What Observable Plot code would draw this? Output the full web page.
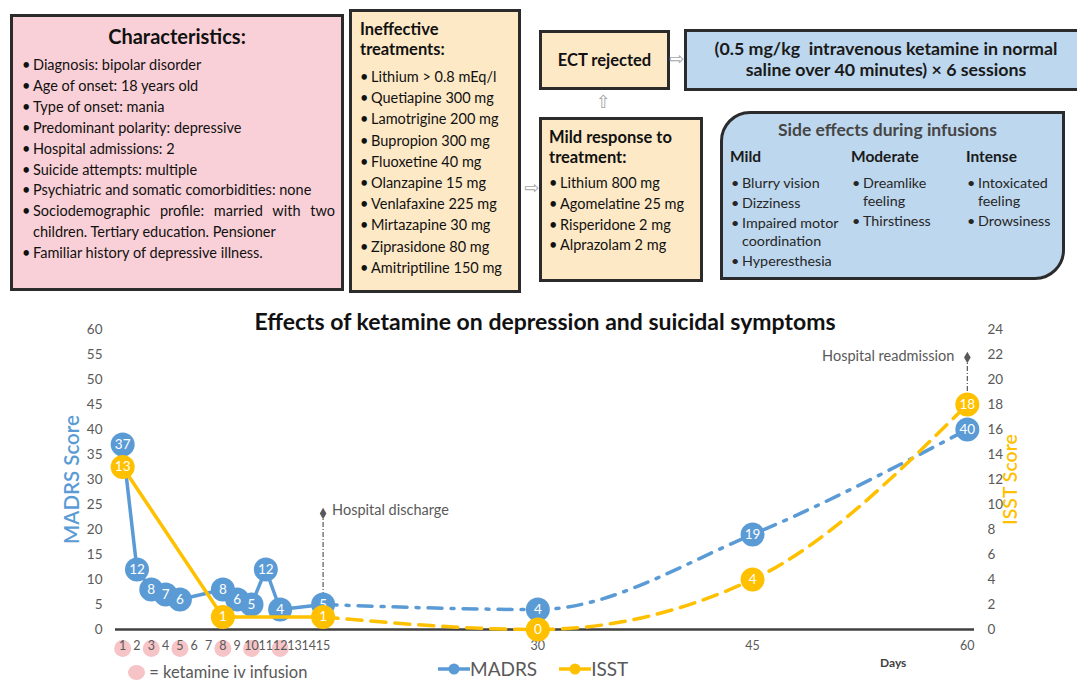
<!DOCTYPE html>
<html>
<head>
<meta charset="utf-8">
<script src="https://cdn.jsdelivr.net/npm/d3@7"></script>
<script src="https://cdn.jsdelivr.net/npm/@observablehq/plot@0.6"></script>
<style>
  html, body { margin: 0; padding: 0; background: #fff; }
  #root { position: relative; width: 1077px; height: 682px; overflow: hidden; font-family: Lato, "Open Sans", sans-serif; color: #111; }
  .box { position: absolute; box-sizing: border-box; border: 3px solid #2b2b2b; }
  .pink { background: #f9d0d7; }
  .beige { background: #fde9c6; }
  .blue { background: #bdd7ee; }
  .abs { position: absolute; white-space: nowrap; }
  ul.b { list-style: none; margin: 0; padding: 0; }
  ul.b li { position: relative; padding-left: 11px; }
  ul.b li::before { content: "\2022"; position: absolute; left: 0; top: 0; }
  .arrow { position: absolute; color: #a6a6a6; font-size: 18px; line-height: 1; font-family: "DejaVu Sans", sans-serif; }
</style>
</head>
<body>
<div id="root">
  <!-- Characteristics -->
  <div class="box pink" style="left:10px; top:14px; width:334px; height:277px;">
    <div style="position:absolute; left:0; right:0; top:7px; text-align:center; font-weight:700; font-size:20px;">Characteristics:</div>
    <ul class="b" id="charList" style="position:absolute; left:9px; top:38px; width:313px; font-size:14.5px; line-height:20.9px;"></ul>
  </div>
  <!-- Ineffective treatments -->
  <div class="box beige" style="left:349px; top:9px; width:172px; height:284px;">
    <div style="position:absolute; left:8px; top:7px; font-weight:700; font-size:16.5px; line-height:20px;">Ineffective<br>treatments:</div>
    <ul class="b" id="ineffList" style="position:absolute; left:8px; top:54px; font-size:14.5px; line-height:21.2px; white-space:nowrap;"></ul>
  </div>
  <div class="arrow" style="left:524px; top:179px;">&#8680;</div>
  <!-- ECT -->
  <div class="box beige" style="left:539px; top:30px; width:131px; height:60px;">
    <div style="position:absolute; left:0; right:0; top:17px; text-align:center; font-weight:700; font-size:16.5px;">ECT rejected</div>
  </div>
  <div class="arrow" style="left:669px; top:50px;">&#8680;</div>
  <div class="arrow" style="left:596px; top:93px;">&#8679;</div>
  <!-- Mild response -->
  <div class="box beige" style="left:539px; top:117px; width:164px; height:165px;">
    <div style="position:absolute; left:7px; top:7px; font-weight:700; font-size:16.5px; line-height:20px;">Mild response to<br>treatment:</div>
    <ul class="b" id="mildList" style="position:absolute; left:7px; top:53px; font-size:14.5px; line-height:20.8px; white-space:nowrap;"></ul>
  </div>
  <!-- Ketamine protocol -->
  <div class="box blue" style="left:684px; top:29px; width:410px; height:62px;">
    <div style="position:absolute; left:0; width:398px; top:6px; text-align:center; font-weight:700; font-size:17.8px; line-height:21px; color:#1a1a1a;">(0.5 mg/kg&nbsp; intravenous ketamine in normal<br>saline over 40 minutes) &#215; 6 sessions</div>
  </div>
  <!-- Side effects -->
  <div class="box blue" style="left:720px; top:111px; width:345px; height:169px; border-radius:30px 0 30px 0;">
    <div style="position:absolute; left:0; right:10px; top:5px; text-align:center; font-weight:700; font-size:17.5px; color:#454545;">Side effects during infusions</div>
    <div id="sideCols"></div>
  </div>

  <!-- Chart -->
  <div id="chart" style="position:absolute; left:0; top:300px;"></div>
  <div class="abs" style="left:0; width:1090px; top:307px; text-align:center; font-weight:700; font-size:23px; color:#111;">Effects of ketamine on depression and suicidal symptoms</div>
  <div class="abs" style="left:880px; top:655px; font-weight:700; font-size:12px; color:#404040;">Days</div>
  <!-- infusion legend -->
  <div class="abs" style="left:128px; top:663px; font-size:16.5px; color:#595959; line-height:18px;">
    <span style="display:inline-block; width:17px; height:15px; border-radius:50%; background:#f6c4c6; vertical-align:-2px;"></span> = ketamine iv infusion
  </div>
  <!-- series legend -->
  <div class="abs" id="legend" style="left:438px; top:658px; font-size:19px; color:#595959; line-height:22px;"></div>
</div>
<script>
// ---------- Text content ----------
const characteristics = [
  "Diagnosis: bipolar disorder",
  "Age of onset: 18 years old",
  "Type of onset: mania",
  "Predominant polarity: depressive",
  "Hospital admissions: 2",
  "Suicide attempts: multiple",
  "Psychiatric and somatic comorbidities: none",
  "Sociodemographic profile: married with two|children. Tertiary education. Pensioner",
  "Familiar history of depressive illness."
];
const ineffectiveTreatments = [
  "Lithium > 0.8 mEq/l", "Quetiapine 300 mg", "Lamotrigine 200 mg", "Bupropion 300 mg",
  "Fluoxetine 40 mg", "Olanzapine 15 mg", "Venlafaxine 225 mg", "Mirtazapine 30 mg",
  "Ziprasidone 80 mg", "Amitriptiline 150 mg"
];
const mildResponse = ["Lithium 800 mg", "Agomelatine 25 mg", "Risperidone 2 mg", "Alprazolam 2 mg"];
const sideEffectLevels = ["Mild", "Moderate", "Intense"];
const sideEffectsMild = ["Blurry vision", "Dizziness", "Impaired motor|coordination", "Hyperesthesia"];
const sideEffectsModerate = ["Dreamlike|feeling", "Thirstiness"];
const sideEffectsIntense = ["Intoxicated|feeling", "Drowsiness"];

// ---------- Chart data ----------
const madrsDays   = [1, 2, 3, 4, 5, 8, 9, 10, 11, 12, 15, 30, 45, 60];
const madrsValues = [37, 12, 8, 7, 6, 8, 6, 5, 12, 4, 5, 4, 19, 40];
const isstDays    = [1, 8, 15, 30, 45, 60];
const isstValues  = [13, 1, 1, 0, 4, 18];
const infusionDays = [1, 3, 5, 8, 10, 12];
const dischargeDay = 15;
const dayTicks = [1, 2, 3, 4, 5, 6, 7, 8, 9, 10, 11, 12, 13, 14, 15, 30, 45, 60];
const madrsTicks = [0, 5, 10, 15, 20, 25, 30, 35, 40, 45, 50, 55, 60];
const isstTicks  = [0, 2, 4, 6, 8, 10, 12, 14, 16, 18, 20, 22, 24];
const seriesNames = ["MADRS", "ISST"];
const annotations = [
  {day: 15, top: 23.2, bottom: 6.4, label: "Hospital discharge", side: "right"},
  {day: 60, top: 54.4, bottom: 47.6, label: "Hospital readmission", side: "left"}
];

// ---------- Build top panel lists ----------
function fillList(id, items) {
  const ul = document.getElementById(id);
  items.forEach(t => {
    const li = document.createElement("li");
    if (t.includes("|")) {
      const [a, b] = t.split("|");
      li.innerHTML = `<span style="display:block;text-align:justify;text-align-last:justify;">${a}</span><span style="display:block;">${b}</span>`;
    } else li.textContent = t;
    ul.appendChild(li);
  });
}
fillList("charList", characteristics);
fillList("ineffList", ineffectiveTreatments);
fillList("mildList", mildResponse);

const colsDiv = document.getElementById("sideCols");
const colLeft = [7, 128, 243];
[sideEffectsMild, sideEffectsModerate, sideEffectsIntense].forEach((items, i) => {
  const h = document.createElement("div");
  h.style.cssText = `position:absolute; left:${colLeft[i]}px; top:33px; font-weight:700; font-size:15.5px; color:#1a1a1a;`;
  h.textContent = sideEffectLevels[i];
  colsDiv.appendChild(h);
  const ul = document.createElement("ul");
  ul.className = "b";
  ul.style.cssText = `position:absolute; left:${colLeft[i] + 1}px; top:60px; font-size:14.3px; line-height:17.5px; color:#262626; white-space:nowrap;`;
  items.forEach(t => {
    const li = document.createElement("li");
    li.style.marginBottom = "2.5px";
    li.innerHTML = t.replace("|", "<br>");
    ul.appendChild(li);
  });
  colsDiv.appendChild(ul);
});

// ---------- Legend ----------
const blue = "#5b9bd5", gold = "#ffc000";
document.getElementById("legend").innerHTML = seriesNames.map((n, i) => {
  const c = i === 0 ? blue : gold;
  return `<span style="display:inline-block; margin-right:${i === 0 ? 22 : 0}px;"><svg width="32" height="14" style="vertical-align:0px"><line x1="0" x2="32" y1="7" y2="7" stroke="${c}" stroke-width="3.5"/><circle cx="16" cy="7" r="5.5" fill="${c}"/></svg>${n}</span>`;
}).join("");

// ---------- Chart ----------
const k = 60 / 24; // ISST -> MADRS axis scale
const madrs = madrsDays.map((d, i) => ({day: d, v: madrsValues[i], y: madrsValues[i]}));
const isst  = isstDays.map((d, i) => ({day: d, v: isstValues[i], y: isstValues[i] * k}));
const madrsSolid = madrs.filter(d => d.day <= dischargeDay);
const madrsDash  = madrs.filter(d => d.day >= dischargeDay);
const isstSolid  = isst.filter(d => d.day <= dischargeDay);
const isstDash   = isst.filter(d => d.day >= dischargeDay);

const chart = Plot.plot({
  width: 1077,
  height: 382,
  marginTop: 29,
  marginBottom: 53,
  marginLeft: 115,
  marginRight: 103,
  style: {fontFamily: "Lato, sans-serif", fontSize: "13px", color: "#595959", background: "transparent", overflow: "visible"},
  x: {domain: [0.5, 60.5]},
  y: {domain: [0, 60]},
  marks: [
    Plot.axisY({ticks: madrsTicks, tickSize: 0, tickPadding: 13, label: null, fontSize: 13.5}),
    Plot.axisY({anchor: "right", ticks: isstTicks.map(v => v * k), tickFormat: d => d / k, tickSize: 0, tickPadding: 13, label: null, fontSize: 13.5}),
    Plot.dot(infusionDays, {x: d => d, y: 0, dy: 19, r: 8.5, fill: "#f6c4c6"}),
    Plot.axisX({ticks: dayTicks, tickSize: 0, tickPadding: 12, label: null, fontSize: 12.5, tickFormat: d => d}),
    Plot.ruleY([0], {stroke: "#404040", strokeWidth: 2.5}),
    // annotations
    Plot.ruleX(annotations, {x: "day", y1: "bottom", y2: "top", stroke: "#595959", strokeWidth: 1.2, strokeDasharray: "5,2,1,2"}),
    Plot.dot(annotations, {x: "day", y: "top", symbol: "diamond", r: 3.5, fill: "#595959"}),
    Plot.text(annotations.filter(a => a.side === "right"), {x: "day", y: "top", text: "label", textAnchor: "start", dx: 9, dy: -3, fontSize: 14.5, fill: "#595959"}),
    Plot.text(annotations.filter(a => a.side === "left"), {x: "day", y: "top", text: "label", textAnchor: "end", dx: -13, dy: -1, fontSize: 14.5, fill: "#595959"}),
    // MADRS
    Plot.line(madrsSolid, {x: "day", y: "y", stroke: blue, strokeWidth: 3.5}),
    Plot.line(madrsDash, {x: "day", y: "y", stroke: blue, strokeWidth: 3.5, curve: "monotone-x", strokeDasharray: "14,9,3,9"}),
    Plot.dot(madrs, {x: "day", y: "y", r: 12, fill: blue}),
    Plot.text(madrs, {x: "day", y: "y", text: "v", fill: "white", fontSize: 13.5}),
    // ISST
    Plot.line(isstSolid, {x: "day", y: "y", stroke: gold, strokeWidth: 3.5}),
    Plot.line(isstDash, {x: "day", y: "y", stroke: gold, strokeWidth: 3.5, curve: "monotone-x", strokeDasharray: "15,9"}),
    Plot.dot(isst, {x: "day", y: "y", r: 12, fill: gold}),
    Plot.text(isst, {x: "day", y: "y", text: "v", fill: "white", fontSize: 13.5}),
    // axis titles
    Plot.text(["MADRS Score"], {frameAnchor: "left", textAnchor: "middle", dx: -43, rotate: -90, fill: blue, fontSize: 20.5, fontWeight: 600}),
    Plot.text(["ISST Score"], {frameAnchor: "right", textAnchor: "middle", dx: 36, rotate: -90, fill: gold, fontSize: 19.5, fontWeight: 600})
  ]
});
document.getElementById("chart").appendChild(chart);
</script>
</body>
</html>
